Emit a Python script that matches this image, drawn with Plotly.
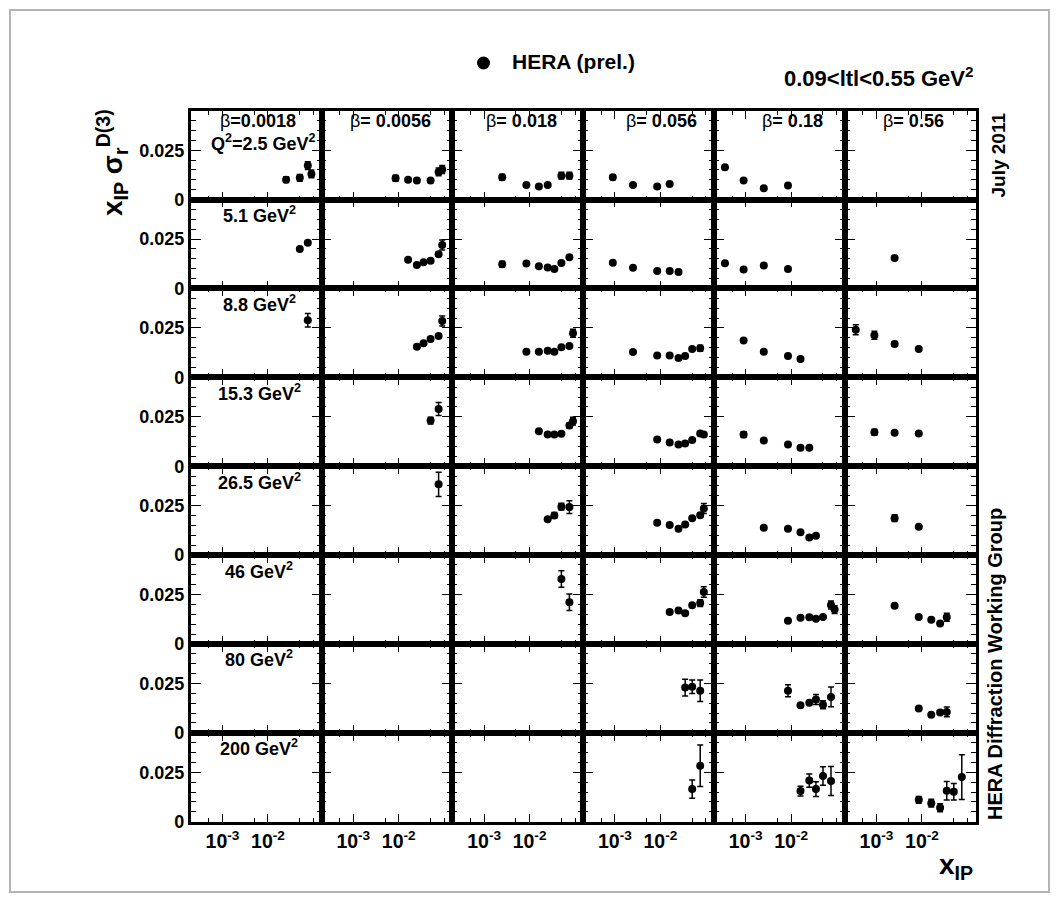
import math
import plotly.graph_objects as go

W = 1059
H = 912      # figure height in px
H_REF = 902  # layout coordinates below are given on a 902 px tall page

beta_labels = ["0.0018", "0.0056", "0.018", "0.056", "0.18", "0.56"]
q2_labels = ["2.5", "5.1", "8.8", "15.3", "26.5", "46", "80", "200"]

# Measured points per Q2 bin: (beta column, x_IP, x_IP*sigma_r^D(3), error)
q2_2p5 = [
    (0, 0.025, 0.0101, 0.0014), (0, 0.05, 0.0110, 0.0017), (0, 0.075, 0.0172, 0.0020), (0, 0.09, 0.0130, 0.0020),
    (1, 0.0085, 0.0108, 0.0015), (1, 0.016, 0.0100, 0.0010), (1, 0.025, 0.0097, 0.0010), (1, 0.05, 0.0096, 0.0010),
    (1, 0.075, 0.0140, 0.0020), (1, 0.09, 0.0152, 0.0020),
    (2, 0.0025, 0.0113, 0.0015), (2, 0.0085, 0.0074, 0.0004), (2, 0.016, 0.0066, 0.0004), (2, 0.025, 0.0074, 0.0004),
    (2, 0.05, 0.0121, 0.0017), (2, 0.075, 0.0121, 0.0017),
    (3, 0.0009, 0.0113, 0.0012), (3, 0.0025, 0.0074, 0.0004), (3, 0.0085, 0.0066, 0.0004), (3, 0.016, 0.0079, 0.0004),
    (4, 0.00035, 0.0164, 0.0012), (4, 0.0009, 0.0096, 0.0004), (4, 0.0025, 0.0057, 0.0004), (4, 0.0085, 0.0071, 0.0004),
]
q2_5p1 = [
    (0, 0.05, 0.0200, 0.0004), (0, 0.075, 0.0231, 0.0004),
    (1, 0.016, 0.0145, 0.0004), (1, 0.025, 0.0119, 0.0004), (1, 0.035, 0.0133, 0.0004), (1, 0.05, 0.0140, 0.0004),
    (1, 0.075, 0.0173, 0.0010), (1, 0.09, 0.0220, 0.0025),
    (2, 0.0025, 0.0123, 0.0015), (2, 0.0085, 0.0126, 0.0004), (2, 0.016, 0.0113, 0.0004), (2, 0.025, 0.0106, 0.0004),
    (2, 0.035, 0.0099, 0.0004), (2, 0.05, 0.0129, 0.0004), (2, 0.075, 0.0158, 0.0004),
    (3, 0.0009, 0.0130, 0.0004), (3, 0.0025, 0.0105, 0.0004), (3, 0.0085, 0.0089, 0.0004), (3, 0.016, 0.0089, 0.0004),
    (3, 0.025, 0.0083, 0.0004),
    (4, 0.00035, 0.0128, 0.0004), (4, 0.0009, 0.0096, 0.0004), (4, 0.0025, 0.0116, 0.0004), (4, 0.0085, 0.0098, 0.0004),
    (5, 0.0025, 0.0154, 0.0004),
]
q2_8p8 = [
    (0, 0.075, 0.0289, 0.0034),
    (1, 0.025, 0.0155, 0.0004), (1, 0.035, 0.0172, 0.0004), (1, 0.05, 0.0194, 0.0004), (1, 0.075, 0.0209, 0.0004),
    (1, 0.09, 0.0285, 0.0025),
    (2, 0.0085, 0.0130, 0.0004), (2, 0.016, 0.0130, 0.0004), (2, 0.025, 0.0135, 0.0004), (2, 0.035, 0.0130, 0.0004),
    (2, 0.05, 0.0152, 0.0004), (2, 0.075, 0.0159, 0.0004), (2, 0.09, 0.0223, 0.0020),
    (3, 0.0025, 0.0128, 0.0004), (3, 0.0085, 0.0110, 0.0004), (3, 0.016, 0.0110, 0.0004), (3, 0.025, 0.0098, 0.0004),
    (3, 0.035, 0.0108, 0.0004), (3, 0.05, 0.0143, 0.0004), (3, 0.075, 0.0147, 0.0015),
    (4, 0.0009, 0.0186, 0.0004), (4, 0.0025, 0.0130, 0.0004), (4, 0.0085, 0.0108, 0.0004), (4, 0.016, 0.0093, 0.0004),
    (5, 0.00035, 0.0241, 0.0025), (5, 0.0009, 0.0213, 0.0020), (5, 0.0025, 0.0169, 0.0012), (5, 0.0085, 0.0143, 0.0004),
]
q2_15p3 = [
    (1, 0.05, 0.0231, 0.0017), (1, 0.075, 0.0290, 0.0033),
    (2, 0.016, 0.0177, 0.0004), (2, 0.025, 0.0160, 0.0004), (2, 0.035, 0.0160, 0.0004), (2, 0.05, 0.0164, 0.0004),
    (2, 0.075, 0.0206, 0.0012), (2, 0.09, 0.0228, 0.0020),
    (3, 0.0085, 0.0135, 0.0004), (3, 0.016, 0.0120, 0.0004), (3, 0.025, 0.0110, 0.0004), (3, 0.035, 0.0115, 0.0004),
    (3, 0.05, 0.0133, 0.0004), (3, 0.075, 0.0165, 0.0004), (3, 0.09, 0.0160, 0.0004),
    (4, 0.0009, 0.0160, 0.0015), (4, 0.0025, 0.0130, 0.0004), (4, 0.0085, 0.0110, 0.0004), (4, 0.016, 0.0094, 0.0004),
    (4, 0.025, 0.0094, 0.0004),
    (5, 0.0009, 0.0172, 0.0015), (5, 0.0025, 0.0169, 0.0004), (5, 0.0085, 0.0165, 0.0004),
]
q2_26p5 = [
    (1, 0.075, 0.0358, 0.0062),
    (2, 0.025, 0.0181, 0.0008), (2, 0.035, 0.0201, 0.0015), (2, 0.05, 0.0245, 0.0017), (2, 0.075, 0.0243, 0.0032),
    (3, 0.0085, 0.0164, 0.0004), (3, 0.016, 0.0152, 0.0004), (3, 0.025, 0.0133, 0.0004), (3, 0.035, 0.0155, 0.0004),
    (3, 0.05, 0.0186, 0.0004), (3, 0.075, 0.0202, 0.0010), (3, 0.09, 0.0236, 0.0025),
    (4, 0.0025, 0.0138, 0.0004), (4, 0.0085, 0.0133, 0.0004), (4, 0.016, 0.0116, 0.0004), (4, 0.025, 0.0089, 0.0004),
    (4, 0.035, 0.0098, 0.0004),
    (5, 0.0025, 0.0187, 0.0017), (5, 0.0085, 0.0143, 0.0004),
]
q2_46 = [
    (2, 0.05, 0.0329, 0.0042), (2, 0.075, 0.0211, 0.0042),
    (3, 0.016, 0.0162, 0.0004), (3, 0.025, 0.0170, 0.0004), (3, 0.035, 0.0155, 0.0004), (3, 0.05, 0.0196, 0.0004),
    (3, 0.075, 0.0207, 0.0017), (3, 0.09, 0.0263, 0.0027),
    (4, 0.0085, 0.0118, 0.0004), (4, 0.016, 0.0133, 0.0004), (4, 0.025, 0.0135, 0.0004), (4, 0.035, 0.0127, 0.0004),
    (4, 0.05, 0.0137, 0.0004), (4, 0.075, 0.0197, 0.0020), (4, 0.09, 0.0174, 0.0020),
    (5, 0.0025, 0.0194, 0.0004), (5, 0.0085, 0.0137, 0.0004), (5, 0.016, 0.0123, 0.0004), (5, 0.025, 0.0103, 0.0004),
    (5, 0.035, 0.0135, 0.0020),
]
q2_80 = [
    (3, 0.035, 0.0229, 0.0042), (3, 0.05, 0.0233, 0.0034), (3, 0.075, 0.0213, 0.0054),
    (4, 0.0085, 0.0213, 0.0030), (4, 0.016, 0.0140, 0.0004), (4, 0.025, 0.0152, 0.0004), (4, 0.035, 0.0169, 0.0025),
    (4, 0.05, 0.0142, 0.0020), (4, 0.075, 0.0182, 0.0050),
    (5, 0.0085, 0.0123, 0.0004), (5, 0.016, 0.0091, 0.0004), (5, 0.025, 0.0103, 0.0004), (5, 0.035, 0.0106, 0.0025),
]
q2_200 = [
    (3, 0.05, 0.0165, 0.0046), (3, 0.075, 0.0283, 0.0105),
    (4, 0.016, 0.0155, 0.0025), (4, 0.025, 0.0208, 0.0034), (4, 0.035, 0.0165, 0.0037), (4, 0.05, 0.0231, 0.0047),
    (4, 0.075, 0.0206, 0.0073),
    (5, 0.0085, 0.0111, 0.0017), (5, 0.016, 0.0094, 0.0020), (5, 0.025, 0.0071, 0.0020), (5, 0.035, 0.0157, 0.0047),
    (5, 0.05, 0.0152, 0.0042), (5, 0.075, 0.0226, 0.0113),
]
q2_rows = [q2_2p5, q2_5p1, q2_8p8, q2_15p3, q2_26p5, q2_46, q2_80, q2_200]

x_lim = [2e-4, 0.15]
y_lim = [0.0, 0.045]
x_major = [1e-3, 1e-2]
x_major_text = ["10<sup>-3</sup>", "10<sup>-2</sup>"]
x_minor = [5e-4, 5e-3, 5e-2, 1e-1]
y_major = [0.0, 0.025]
y_major_text = ["0", "0.025"]
y_minor = [0.005, 0.01, 0.015, 0.02, 0.03, 0.035, 0.04]

FONT = "Liberation Sans"
NC, NR = 6, 8
GRID_L, GRID_R = 190.7, 975.5
GRID_T, GRID_B = 110.7, 821.7
CW = (GRID_R - GRID_L) / NC
RH = (GRID_B - GRID_T) / NR


def fx(p):
    return p / W


def fy(p):
    return 1 - p / H_REF


fig = go.Figure()
layout = {}

for r in range(NR):
    for c in range(NC):
        k = r * NC + c + 1
        sfx = "" if k == 1 else str(k)
        x0 = GRID_L + c * CW
        y0 = GRID_T + r * RH
        pts = [p for p in q2_rows[r] if p[0] == c]
        fig.add_trace(go.Scatter(
            x=[p[1] for p in pts], y=[p[2] for p in pts],
            error_y=dict(type="data", array=[p[3] for p in pts], color="black", thickness=1.5, width=3),
            mode="markers", marker=dict(size=8, color="black"),
            xaxis="x" + sfx, yaxis="y" + sfx, showlegend=False, hoverinfo="skip",
        ))
        common = dict(
            showline=True, linewidth=2.8, linecolor="black", mirror="allticks",
            ticks="inside", tickcolor="black", tickwidth=1.3,
            showgrid=False, zeroline=False, fixedrange=True,
        )
        layout["xaxis" + sfx] = dict(
            common, type="log",
            range=[math.log10(x_lim[0]), math.log10(x_lim[1])],
            domain=[fx(x0), fx(x0 + CW)], anchor="y" + sfx,
            tickmode="array", tickvals=x_major, ticktext=x_major_text, ticklen=8,
            showticklabels=(r == NR - 1),
            tickfont=dict(family=FONT, size=19.5, color="black", weight="bold"),
            minor=dict(tickmode="array", tickvals=x_minor, ticks="inside", ticklen=4,
                       tickwidth=1.3, tickcolor="black", showgrid=False),
        )
        layout["yaxis" + sfx] = dict(
            common, range=y_lim,
            domain=[fy(y0 + RH), fy(y0)], anchor="x" + sfx,
            tickmode="array", tickvals=y_major, ticktext=y_major_text, ticklen=10,
            showticklabels=(c == 0),
            tickfont=dict(family=FONT, size=18, color="black", weight="bold"),
            minor=dict(tickmode="array", tickvals=y_minor, ticks="inside", ticklen=5,
                       tickwidth=1.3, tickcolor="black", showgrid=False),
        )

ann = []
bold = dict(family=FONT, color="black", weight="bold")

# beta labels along the top row
beta_x = [258, 390, 521, 661, 792, 913]
for c, b in enumerate(beta_labels):
    sep = "=" if c == 0 else "= "
    ann.append(dict(x=fx(beta_x[c]), y=fy(121), xref="paper", yref="paper",
                    text="β" + "<b>" + sep + b + "</b>", showarrow=False,
                    xanchor="center", yanchor="middle",
                    font=dict(family=FONT, color="black", size=18)))

# Q2 labels in the first column
ann.append(dict(x=fx(318), y=fy(142), xref="paper", yref="paper",
                text="Q<sup>2</sup>=" + q2_labels[0] + " GeV<sup>2</sup>", showarrow=False,
                xanchor="right", yanchor="middle", font=dict(bold, size=18)))
for r in range(1, NR):
    ann.append(dict(x=fx(259), y=fy(GRID_T + r * RH + 15), xref="paper", yref="paper",
                    text=q2_labels[r] + " GeV<sup>2</sup>", showarrow=False,
                    xanchor="center", yanchor="middle", font=dict(bold, size=18)))

# legend entry
ann.append(dict(x=fx(510), y=fy(62), xref="paper", yref="paper", text="HERA (prel.)",
                showarrow=False, xanchor="left", yanchor="middle", font=dict(bold, size=21)))
# t range
ann.append(dict(x=fx(976), y=fy(77), xref="paper", yref="paper",
                text="0.09&lt;ltl&lt;0.55 GeV<sup>2</sup>", showarrow=False,
                xanchor="right", yanchor="middle", font=dict(bold, size=22)))
# axis titles
ann.append(dict(x=fx(112), y=fy(163), xref="paper", yref="paper", textangle=-90,
                text="x<sub>IP</sub> σ<sub>r</sub><sup>D(3)</sup>", showarrow=False,
                xanchor="center", yanchor="middle", font=dict(bold, size=28)))
ann.append(dict(x=fx(975), y=fy(866), xref="paper", yref="paper",
                text="x<sub>IP</sub>", showarrow=False,
                xanchor="right", yanchor="middle", font=dict(bold, size=28)))
# side notes
ann.append(dict(x=fx(998), y=fy(111), xref="paper", yref="paper", textangle=-90,
                text="July 2011", showarrow=False, xanchor="center", yanchor="top",
                font=dict(bold, size=19)))
ann.append(dict(x=fx(995), y=fy(822), xref="paper", yref="paper", textangle=-90,
                text="HERA Diffraction Working Group", showarrow=False, xanchor="center",
                yanchor="bottom", font=dict(bold, size=20)))

shapes = [
    dict(type="circle", xref="paper", yref="paper", x0=fx(477), x1=fx(490), y0=fy(69.5), y1=fy(56.5),
         fillcolor="black", line=dict(color="black", width=0)),
    dict(type="rect", xref="paper", yref="paper", x0=fx(10), x1=fx(1049), y0=fy(892), y1=fy(10),
         line=dict(color="#b4b4b4", width=2)),
]

fig.update_layout(
    width=W, height=H, autosize=False,
    margin=dict(l=0, r=0, t=0, b=0),
    paper_bgcolor="white", plot_bgcolor="white",
    annotations=ann, shapes=shapes, **layout,
)

fig.write_html("out.html", config={"displayModeBar": False})
